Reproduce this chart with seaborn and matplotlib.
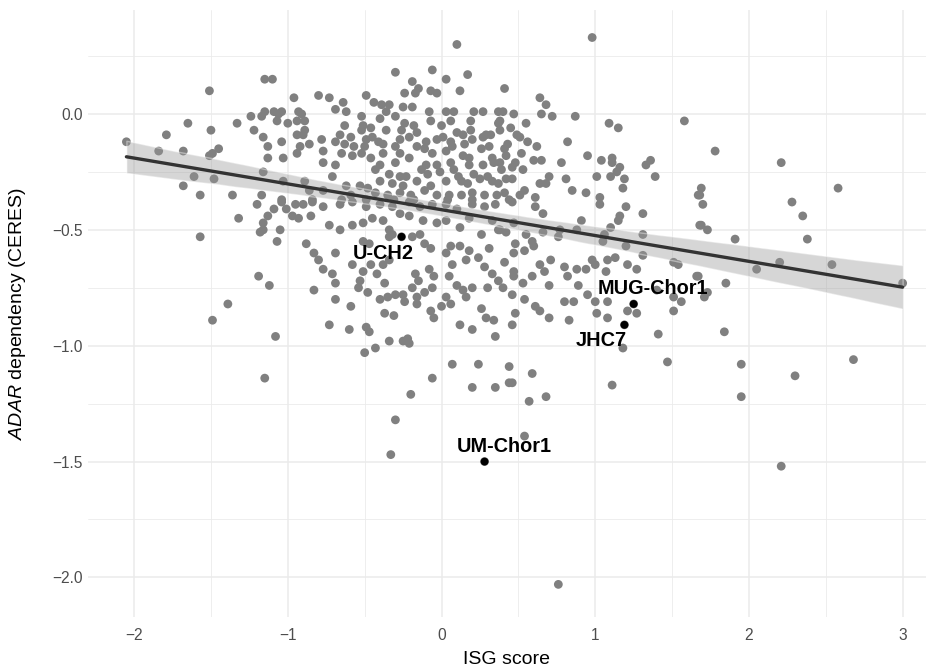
import matplotlib
matplotlib.use("Agg")
import matplotlib.pyplot as plt
import seaborn as sns
import pandas as pd
from matplotlib.ticker import MultipleLocator, FuncFormatter

sns.set_theme(style="white")
plt.rcParams['font.family'] = ['Liberation Sans', 'DejaVu Sans']
plt.rcParams['mathtext.fontset'] = 'custom'
plt.rcParams['mathtext.it'] = 'Liberation Sans:italic'
plt.rcParams['mathtext.rm'] = 'Liberation Sans'
plt.rcParams['axes.unicode_minus'] = True

# (ISG score, ADAR CERES), grouped by region
far_left = [
    (-1.15, 0.15), (-1.10, 0.15), (-1.51, 0.10), (-0.96, 0.07), (-1.15, 0.01), (-1.09, 0.01),
    (-1.04, 0.01), (-1.06, 0.00), (-0.93, 0.01), (-1.24, -0.01), (-1.17, -0.01), (-1.65, -0.04),
    (-1.33, -0.04), (-1.07, -0.03), (-1.00, -0.04), (-0.94, -0.03), (-1.50, -0.07), (-1.22, -0.07),
    (-0.94, -0.09), (-1.79, -0.09), (-2.05, -0.12), (-1.16, -0.10), (-1.04, -0.12), (-1.45, -0.15),
    (-1.13, -0.14), (-1.84, -0.16), (-1.68, -0.16), (-1.49, -0.17), (-1.51, -0.18), (-0.94, -0.17),
    (-1.13, -0.19), (-1.03, -0.19), (-1.16, -0.25), (-1.61, -0.27), (-1.48, -0.28), (-1.03, -0.29),
    (-1.68, -0.31), (-1.57, -0.35), (-1.36, -0.35), (-1.17, -0.35), (-1.04, -0.37),
]

center_top = [
    (0.10, 0.30), (-0.30, 0.18), (-0.06, 0.19), (0.17, 0.17), (0.03, 0.15), (-0.19, 0.14),
    (-0.15, 0.11), (-0.17, 0.09), (-0.24, 0.09), (-0.07, 0.10), (-0.03, 0.09), (0.12, 0.10),
    (-0.80, 0.08), (-0.73, 0.07), (-0.49, 0.08), (-0.64, 0.05), (-0.44, 0.05), (-0.39, 0.04),
    (-0.34, 0.04), (-0.69, 0.02), (-0.62, 0.01), (-0.19, 0.03), (-0.25, 0.03), (-0.36, 0.01),
    (-0.30, -0.01), (-0.40, -0.02), (-0.52, -0.01), (-0.08, 0.01), (-0.07, -0.03), (0.03, 0.01),
    (0.08, 0.01), (0.06, -0.03), (0.21, 0.01), (0.27, 0.01), (0.19, -0.03), (0.37, 0.01),
    (-0.91, 0.00), (-0.89, -0.03), (-0.63, -0.05), (-0.51, -0.05), (-0.52, -0.07), (-0.46, -0.06),
    (-0.36, -0.07), (-0.26, -0.07), (-0.24, -0.04), (-0.18, -0.05), (0.00, -0.05), (-0.16, -0.08),
    (-0.89, -0.07), (-0.90, -0.09), (0.10, -0.08), (0.14, -0.09), (0.29, -0.09), (0.19, -0.07),
    (0.38, -0.03), (-0.78, -0.11), (-0.69, -0.12), (-0.59, -0.10), (-0.66, -0.09), (-0.49, -0.11),
    (-0.45, -0.10), (-0.41, -0.12), (-0.27, -0.11), (-0.21, -0.10), (-0.10, -0.12), (-0.03, -0.11),
    (0.01, -0.10), (0.06, -0.12), (0.20, -0.11), (0.27, -0.10), (0.32, -0.09), (-0.86, -0.13),
    (-0.92, -0.14), (-0.63, -0.13), (-0.57, -0.14), (-0.50, -0.14), (-0.38, -0.13), (-0.30, -0.14),
    (-0.16, -0.14), (-0.11, -0.15), (0.07, -0.14), (0.15, -0.13), (0.26, -0.15), (0.31, -0.14),
    (-0.77, -0.16), (-0.65, -0.17), (-0.58, -0.18), (-0.52, -0.17), (-0.46, -0.19), (-0.38, -0.17),
    (-0.27, -0.17), (-0.21, -0.19), (-0.06, -0.17), (0.03, -0.16), (0.14, -0.18), (0.18, -0.19),
    (0.33, -0.19), (-0.77, -0.21), (-0.69, -0.22), (-0.40, -0.22), (-0.30, -0.21), (-0.10, -0.22),
    (-0.03, -0.22), (0.06, -0.21), (0.18, -0.22), (0.27, -0.22), (0.34, -0.21), (-0.43, -0.24),
    (-0.34, -0.26), (-0.27, -0.27), (-0.23, -0.27), (-0.13, -0.24), (-0.09, -0.26), (-0.01, -0.25),
    (0.08, -0.24), (0.11, -0.27), (0.21, -0.26), (0.30, -0.27), (-0.89, -0.29), (-0.71, -0.27),
    (-0.62, -0.31), (-0.53, -0.31), (-0.48, -0.32), (-0.40, -0.29), (-0.32, -0.30), (-0.25, -0.31),
    (-0.16, -0.29), (-0.07, -0.31), (0.03, -0.29), (0.13, -0.29), (0.17, -0.30), (0.25, -0.28),
    (0.33, -0.29), (-0.86, -0.33), (-0.77, -0.33), (-0.59, -0.35), (-0.43, -0.34), (-0.35, -0.35),
    (-0.27, -0.34), (-0.20, -0.35), (-0.11, -0.33), (-0.03, -0.35), (0.05, -0.35), (0.13, -0.35),
    (0.20, -0.34), (0.28, -0.35), (0.36, -0.35), (-0.84, -0.37), (-0.65, -0.37), (-0.49, -0.37),
    (-0.31, -0.37), (-0.18, -0.37), (0.04, -0.37), (0.20, -0.37),
]

right_top = [
    (0.98, 0.33), (0.41, 0.11), (0.64, 0.07), (0.68, 0.04), (0.40, 0.01), (0.47, 0.00),
    (0.65, 0.00), (0.72, -0.01), (0.87, -0.01), (0.55, -0.04), (0.37, -0.04), (0.45, -0.06),
    (0.38, -0.07), (0.49, -0.09), (0.51, -0.10), (1.09, -0.04), (1.15, -0.06), (1.58, -0.03),
    (0.82, -0.12), (0.56, -0.12), (0.62, -0.14), (0.43, -0.13), (0.41, -0.15), (0.95, -0.18),
    (0.42, -0.18), (0.52, -0.17), (0.60, -0.20), (0.65, -0.20), (0.78, -0.21), (1.04, -0.20),
    (1.11, -0.19), (1.11, -0.21), (1.33, -0.22), (1.36, -0.20), (1.16, -0.23), (1.14, -0.25),
    (0.38, -0.21), (0.48, -0.21), (0.46, -0.23), (0.39, -0.24), (0.53, -0.24), (1.01, -0.27),
    (1.10, -0.27), (1.19, -0.28), (1.39, -0.27), (0.70, -0.27), (0.64, -0.30), (0.68, -0.30),
    (0.81, -0.28), (0.42, -0.28), (0.46, -0.28), (0.37, -0.30), (1.18, -0.32), (0.85, -0.33),
    (0.94, -0.34), (0.54, -0.33), (0.51, -0.35), (0.41, -0.34), (0.61, -0.36), (1.03, -0.36),
    (0.44, -0.37), (1.67, -0.35),
    (1.78, -0.16), (2.21, -0.21), (1.69, -0.32), (1.68, -0.35), (2.58, -0.32),
]

left_mid = [
    (-1.20, -0.39), (-1.04, -0.38), (-1.09, -0.41), (-1.01, -0.41), (-0.95, -0.39), (-1.13, -0.44),
    (-0.97, -0.44), (-0.93, -0.45), (-1.32, -0.45), (-1.16, -0.47), (-1.16, -0.50), (-1.18, -0.51),
    (-1.05, -0.50), (-1.07, -0.55), (-1.57, -0.53), (-1.19, -0.70), (-1.12, -0.74), (-1.39, -0.82),
    (-1.49, -0.89), (-1.08, -0.96),
]

center_mid = [
    (-0.90, -0.39), (-0.84, -0.38), (-0.77, -0.40), (-0.66, -0.39), (-0.58, -0.38), (-0.49, -0.40),
    (-0.40, -0.39), (-0.32, -0.40), (-0.21, -0.38), (-0.14, -0.40), (-0.06, -0.39), (0.03, -0.39),
    (0.10, -0.41), (0.20, -0.39), (0.28, -0.40), (0.35, -0.39), (-0.85, -0.44), (-0.73, -0.48),
    (-0.66, -0.50), (-0.58, -0.48), (-0.51, -0.47), (-0.45, -0.45), (-0.38, -0.46), (-0.34, -0.50),
    (-0.27, -0.43), (-0.21, -0.44), (-0.12, -0.46), (-0.03, -0.47), (0.03, -0.46), (0.12, -0.49),
    (0.18, -0.45), (0.26, -0.52), (0.33, -0.46), (0.38, -0.50), (-0.88, -0.56), (-0.83, -0.60),
    (-0.80, -0.63), (-0.69, -0.60), (-0.77, -0.67), (-0.71, -0.69), (-0.69, -0.73), (-0.83, -0.76),
    (-0.69, -0.80), (-0.59, -0.83), (-0.73, -0.91), (-0.60, -0.93), (-0.49, -0.92), (-0.47, -0.94),
    (-0.43, -1.01), (-0.50, -1.03), (-0.34, -0.98), (-0.25, -0.98), (-0.22, -0.97), (-0.21, -0.99),
    (-0.51, -0.55), (-0.47, -0.56), (-0.34, -0.53), (-0.32, -0.52), (-0.19, -0.53), (-0.14, -0.52),
    (-0.11, -0.56), (-0.07, -0.58), (-0.58, -0.65), (-0.51, -0.68), (-0.46, -0.65), (-0.42, -0.69),
    (-0.38, -0.65), (-0.34, -0.63), (-0.53, -0.72), (-0.54, -0.75), (-0.48, -0.77), (-0.37, -0.73),
    (-0.17, -0.69), (-0.15, -0.72), (-0.19, -0.75), (-0.08, -0.67), (-0.05, -0.70), (-0.06, -0.75),
    (-0.11, -0.77), (-0.40, -0.80), (-0.35, -0.79), (-0.30, -0.78), (-0.25, -0.78), (-0.24, -0.81),
    (-0.37, -0.86), (-0.31, -0.87), (-0.16, -0.79), (-0.16, -0.82), (-0.07, -0.85), (-0.05, -0.88),
    (0.00, -0.83), (0.03, -0.79), (0.06, -0.82), (0.12, -0.91), (0.20, -0.93), (0.26, -0.84),
    (0.29, -0.88), (0.34, -0.89), (0.35, -0.96), (0.16, -0.79), (0.20, -0.75), (0.10, -0.74),
    (0.14, -0.76), (0.06, -0.57), (0.12, -0.57), (0.18, -0.59), (0.03, -0.60), (0.07, -0.65),
    (0.16, -0.63), (0.24, -0.62), (0.31, -0.58), (0.28, -0.66), (0.33, -0.69), (0.37, -0.72),
    (0.30, -0.75), (0.05, -0.70), (0.07, -1.08), (0.24, -1.08),
]

right_mid = [
    (0.46, -0.38), (0.61, -0.40), (0.66, -0.43), (1.03, -0.39), (1.20, -0.40), (1.16, -0.44),
    (1.15, -0.46), (1.31, -0.43), (1.10, -0.49), (0.91, -0.46), (0.37, -0.50), (0.42, -0.51),
    (0.47, -0.47), (0.55, -0.52), (0.59, -0.55), (0.66, -0.51), (0.77, -0.50), (0.76, -0.53),
    (0.88, -0.50), (1.06, -0.52), (1.05, -0.55), (1.20, -0.57), (1.31, -0.52), (1.31, -0.61),
    (1.68, -0.48), (0.48, -0.56), (0.47, -0.60), (0.54, -0.59), (0.60, -0.57), (0.41, -0.64),
    (0.47, -0.68), (0.47, -0.70), (0.59, -0.70), (0.64, -0.65), (0.67, -0.68), (0.71, -0.63),
    (0.80, -0.66), (0.82, -0.70), (0.88, -0.67), (0.94, -0.67), (0.98, -0.63), (1.00, -0.65),
    (1.07, -0.68), (1.08, -0.63), (1.13, -0.62), (1.21, -0.65), (1.27, -0.67), (1.51, -0.64),
    (1.54, -0.65), (1.66, -0.70), (0.53, -0.73), (0.70, -0.74), (0.89, -0.74), (0.40, -0.75),
    (0.46, -0.78), (0.54, -0.80), (0.61, -0.83), (0.64, -0.85), (0.70, -0.88), (0.48, -0.86),
    (0.80, -0.81), (0.86, -0.81), (0.95, -0.78), (1.00, -0.81), (1.08, -0.81), (1.01, -0.86),
    (1.08, -0.88), (1.21, -0.85), (1.27, -0.86), (1.40, -0.76), (1.51, -0.79), (1.56, -0.81),
    (1.51, -0.85), (0.83, -0.89), (0.46, -0.91), (1.41, -0.95), (1.18, -1.01), (0.44, -1.09),
    (1.47, -1.07),
    (1.70, -0.39), (2.28, -0.38), (2.35, -0.44), (1.69, -0.48), (1.73, -0.50), (1.91, -0.54),
    (2.38, -0.54), (2.20, -0.64), (2.05, -0.67), (2.54, -0.65), (3.00, -0.73), (1.67, -0.70),
    (1.85, -0.73), (1.73, -0.77), (1.71, -0.79), (1.84, -0.94), (1.95, -1.08), (2.68, -1.06),
]

bottom = [
    (-1.15, -1.14), (-0.06, -1.14), (-0.20, -1.21), (-0.30, -1.32), (-0.33, -1.47), (0.20, -1.18),
    (0.35, -1.18), (0.44, -1.16), (0.46, -1.16), (0.59, -1.12), (0.57, -1.24), (0.68, -1.22),
    (1.11, -1.17), (1.95, -1.22), (2.30, -1.13), (0.54, -1.39), (2.21, -1.52), (0.76, -2.03),
]

cell_lines = ['U-CH2', 'MUG-Chor1', 'JHC7', 'UM-Chor1']
cell_isg = [-0.26, 1.25, 1.19, 0.28]
cell_adar = [-0.53, -0.82, -0.91, -1.50]

all_pts = far_left + center_top + right_top + left_mid + center_mid + right_mid + bottom
isg_score = [p[0] for p in all_pts] + cell_isg
adar_ceres = [p[1] for p in all_pts] + cell_adar

df = pd.DataFrame({'isg': isg_score, 'adar': adar_ceres})
lab = pd.DataFrame({'name': cell_lines, 'isg': cell_isg, 'adar': cell_adar})

fig = plt.figure(figsize=(9.36, 6.69), dpi=100)
ax = fig.add_axes([0.094, 0.078, 0.895, 0.9075])

sns.scatterplot(data=df, x='isg', y='adar', color='#808080', s=40,
                edgecolor='none', linewidth=0, ax=ax, zorder=2)
sns.regplot(data=df, x='isg', y='adar', scatter=False, ax=ax, color='#333333',
            seed=1, line_kws={'lw': 2.4, 'zorder': 4})
band = ax.collections[-1]
band.set_facecolor('#999999')
band.set_alpha(0.4)
band.set_zorder(3)

sns.scatterplot(data=lab, x='isg', y='adar', color='black', s=32,
                edgecolor='none', linewidth=0, ax=ax, zorder=5)

offsets = {'U-CH2': (-13.5, -12), 'MUG-Chor1': (13.7, 10.8),
           'JHC7': (-16.6, -11.4), 'UM-Chor1': (14.4, 11)}
for name, x, y in zip(cell_lines, cell_isg, cell_adar):
    ax.annotate(name, (x, y), xytext=offsets[name], textcoords='offset points',
                ha='center', va='center', fontsize=14.3, fontweight='bold',
                color='black', zorder=6)

ax.set_xlim(-2.30, 3.15)
ax.set_ylim(-2.17, 0.45)
ax.xaxis.set_major_locator(MultipleLocator(1))
ax.xaxis.set_minor_locator(MultipleLocator(0.5))
ax.yaxis.set_major_locator(MultipleLocator(0.5))
ax.yaxis.set_minor_locator(MultipleLocator(0.25))
ax.yaxis.set_major_formatter(FuncFormatter(lambda v, p: f'{v:.1f}'.replace('-', '\u2212')))

ax.grid(which='major', color='#EBEBEB', lw=1.1, zorder=0)
ax.grid(which='minor', color='#EBEBEB', lw=0.6, zorder=0)
ax.set_axisbelow(True)
for s in ax.spines.values():
    s.set_visible(False)
ax.tick_params(which='both', length=0, labelsize=11.2, labelcolor='#4D4D4D')
ax.tick_params(axis='x', pad=8)
ax.tick_params(axis='y', pad=4)

ax.set_xlabel('ISG score', fontsize=14, color='black', labelpad=6)
ax.set_ylabel(r'$\it{ADAR}$ dependency (CERES)', fontsize=14, color='black', labelpad=17)

fig.savefig('out.png', dpi=100, facecolor='white')
